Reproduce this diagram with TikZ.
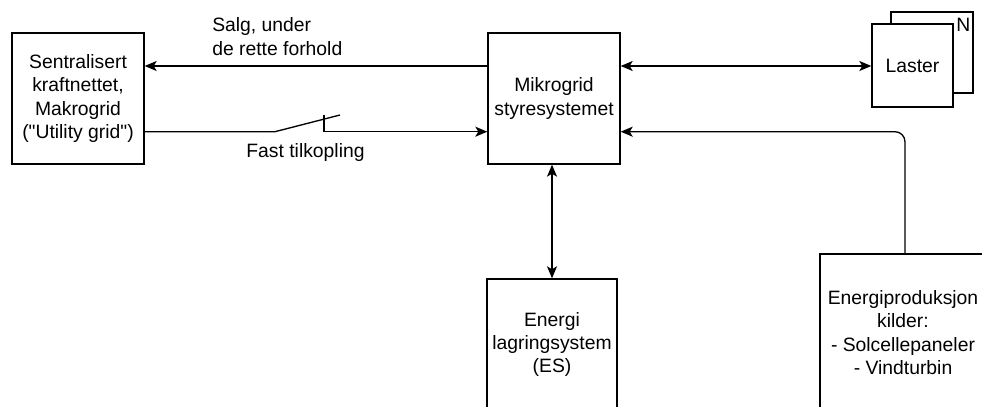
\documentclass[tikz,border=0pt]{standalone}
\usepackage{fontspec}
\setmainfont{Liberation Sans}[Ligatures=TeXOff]
\usetikzlibrary{arrows.meta}
\begin{document}
\begin{tikzpicture}[x=0.75pt,y=-0.75pt,
  every node/.style={font=\fontsize{14.5pt}{17.4pt}\selectfont, inner sep=0pt},
  box/.style 2 args={draw, line width=1pt, fill=white,
    minimum width=#1*0.75pt, minimum height=#2*0.75pt, align=center},
  conn/.style={line width=1pt, -{Stealth[length=9pt,width=7.5pt,inset=2.2pt]}},
  bconn/.style={line width=1pt, {Stealth[length=9pt,width=7.5pt,inset=2.2pt]}-{Stealth[length=9pt,width=7.5pt,inset=2.2pt]}}
]
\path[use as bounding box] (0,0) rectangle (982,407);
\clip (0,0) rectangle (982,407);

% main blocks
\node[box={132}{131}] (grid) at (78,98.5)
  {Sentralisert\\kraftnettet,\\Makrogrid\\("Utility grid")};
\node[box={132}{131}] (mg) at (554,98.5)
  {Mikrogrid\\styresystemet};
\node[box={130}{131}] (es) at (552,344.5)
  {Energi\\lagringsystem\\(ES)};
\node[box={166}{157}] (prod) at (903,332.5)
  {Energiproduksjon\\kilder:\\- Solcellepaneler\\- Vindturbin};

% stacked load blocks
\node[box={82}{81}] (lback) at (932,52.5) {};
\node[anchor=north east] (nlbl) at ([xshift=-2.25pt,yshift=-5.25pt]lback.north east) {N};
\node[box={81}{83}] (laster) at (912.5,65.5) {Laster};

% sale to the utility grid
\draw[conn] (mg.west |- 0,66) -- (grid.east |- 0,66);
\node[anchor=west, align=left] (salg) at (212,36.5) {Salg, under\\de rette forhold};

% fixed connection through a switch
\coordinate (swa) at (275,131.7);
\coordinate (swb) at (340,115);
\coordinate (swt) at (324,115);
\coordinate (swc) at (324,131.7);
\draw[line width=1pt] (grid.east |- swa) -- (swa) -- (swb);
\draw[line width=1pt] (swt) -- (swc);
\draw[conn] (swc) -- (mg.west |- swc);
\node (fast) at (305.5,152.7) {Fast tilkopling};

% loads
\draw[bconn] (mg.east |- 0,66) -- (laster.west |- 0,66);

% storage
\draw[bconn] (mg.south -| 552,0) -- (es.north);

% production
\draw[conn, rounded corners=7.5pt] (prod.north -| 905,0) -- (905,131.7) -- (mg.east |- 0,131.7);
\end{tikzpicture}
\end{document}
